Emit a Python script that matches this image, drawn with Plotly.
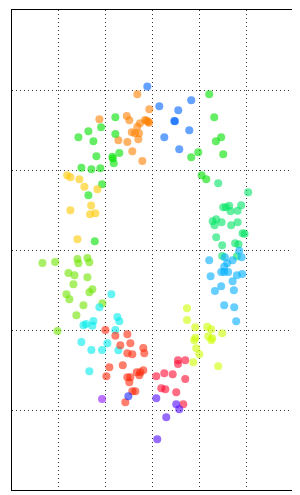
import plotly.graph_objects as go

# ---- data ----
orange_x = [-0.324, -0.068, -1.134, -0.550, -0.495, -0.160, -0.267, -0.324, -0.090, -0.443,
            -0.373, -0.288, -0.303, -0.729, -0.537, -0.431, -0.217, -0.124, -0.075]
orange_y = [1.946, 1.759, 1.634, 1.675, 1.621, 1.625, 1.584, 1.541, 1.604, 1.471,
            1.459, 1.459, 1.384, 1.371, 1.350, 1.234, 1.113, 1.616, 1.591]

blue_x = [-0.111, 0.145, 0.550, 0.827, 0.465, 0.785, 0.252, 0.571, 0.480]
blue_y = [2.044, 1.796, 1.746, 1.871, 1.613, 1.496, 1.409, 1.259, 1.610]

green_x = [-0.793, -1.098, -1.369, -1.582, -1.262, -0.793, -0.708, -1.198, -0.857, -0.846,
           -0.827, -1.518, -1.305, -1.113, -1.077, -1.369, -1.232,
           1.211, 1.318, 1.467, 1.354, 1.510, 0.977, 0.827, 1.049, 1.147]
green_y = [1.659, 1.534, 1.484, 1.409, 1.359, 1.450, 1.213, 1.171, 1.166, 1.144,
           1.084, 1.029, 1.009, 1.021, 0.821, 0.684, 0.109,
           1.946, 1.659, 1.409, 1.359, 1.196, 1.221, 1.159, 0.934, 0.884]

spring_x = [1.403, 2.043, 1.510, 1.638, 1.893, 1.567, 1.667, 1.817, 1.284, 1.360, 1.475,
            1.326, 1.680, 1.817, 1.923, 1.966, 1.360, 1.488, 1.765, 1.838, 1.488, 1.802]
spring_y = [0.834, 0.721, 0.534, 0.554, 0.559, 0.534, 0.484, 0.491, 0.359, 0.384, 0.346,
            0.309, 0.309, 0.346, 0.209, 0.204, 0.159, 0.059, 0.084, 0.071, -0.075, -0.079]

sky_x = [1.851, 1.211, 1.546, 1.595, 1.710, 1.531, 1.902, 1.467, 1.531, 1.616,
         1.802, 1.915, 1.241, 1.710, 1.467, 1.333, 1.738, 1.531, 1.744, 1.787]
sky_y = [-0.009, -0.129, -0.091, -0.166, -0.129, -0.209, -0.091, -0.275, -0.275, -0.275,
         -0.316, -0.300, -0.329, -0.391, -0.454, -0.513, -0.504, -0.691, -0.716, -0.891]

yellow_x = [-1.823, -1.753, -1.561, -1.454, -1.177, -1.311, -1.753, -1.333, -1.220, -1.603]
yellow_y = [0.934, 0.909, 0.884, 0.791, 0.759, 0.556, 0.496, 0.446, 0.459, 0.134]

lime_x = [-2.350, -2.079, -1.603, -1.582, -1.390, -1.348, -1.795, -1.667, -1.390,
          -1.689, -1.838, -1.774, -1.284, -1.348, -1.070, -1.475, -1.625, -2.030]
lime_y = [-0.163, -0.150, -0.113, -0.166, -0.100, -0.154, -0.288, -0.316, -0.341,
          -0.429, -0.554, -0.616, -0.491, -0.529, -0.666, -0.691, -0.816, -1.013]

cyan_x = [-0.878, -1.134, -0.751, -0.708, -1.262, -1.475, -1.418, -1.284,
          -0.793, -1.518, -0.964, -1.305, -1.077, -0.729, -1.348]
cyan_y = [-0.554, -0.716, -0.838, -0.891, -0.888, -0.941, -0.925, -0.946,
          -1.000, -1.150, -1.166, -1.250, -1.250, -1.254, -1.516]

redorange_x = [-1.006, -0.793, -0.537, -0.473, -0.687, -0.196, -0.175, -0.537, -0.431, -0.921, -0.635,
               -0.985, -0.537, -0.473, -0.495, -0.337, -0.260, -0.196, -0.281, -0.431, -0.367, -0.580]
redorange_y = [-1.000, -1.071, -1.054, -1.166, -1.191, -1.225, -1.291, -1.291, -1.304, -1.466, -1.441,
               -1.579, -1.591, -1.591, -1.654, -1.529, -1.529, -1.504, -1.566, -1.766, -1.766, -1.904]

crimson_x = [0.544, 0.544, 0.699, 0.081, 0.252, 0.431, 0.699, 0.188, 0.273, 0.507, 0.657]
crimson_y = [-1.379, -1.425, -1.379, -1.579, -1.541, -1.554, -1.613, -1.729, -1.741, -1.779, -1.929]

purple_x = [0.081, 0.507, 0.571, 0.294, 0.102]
purple_y = [-1.854, -1.929, -1.991, -2.091, -2.366]

violet_x = [-1.077]
violet_y = [-1.863]

indigo_x = [-0.516]
indigo_y = [-1.829]

chartreuse_x = [0.913, 1.168, 1.254, 1.488, 0.913, 0.891, 1.190, 1.275, 1.254,
                0.934, 0.998, 0.870, 1.403, 0.736, 0.736]
chartreuse_y = [-0.966, -0.959, -0.991, -1.041, -1.096, -1.129, -1.079, -1.104, -1.129,
                -1.229, -1.304, -1.404, -1.454, -0.729, -0.875]

groups = [
    (orange_x, orange_y, "rgb(255,128,0)"),
    (blue_x, blue_y, "rgb(0,100,255)"),
    (green_x, green_y, "rgb(0,225,0)"),
    (spring_x, spring_y, "rgb(0,228,100)"),
    (sky_x, sky_y, "rgb(0,175,255)"),
    (yellow_x, yellow_y, "rgb(255,200,0)"),
    (lime_x, lime_y, "rgb(110,228,0)"),
    (cyan_x, cyan_y, "rgb(0,235,235)"),
    (redorange_x, redorange_y, "rgb(255,40,10)"),
    (crimson_x, crimson_y, "rgb(255,10,50)"),
    (purple_x, purple_y, "rgb(80,10,255)"),
    (violet_x, violet_y, "rgb(140,20,255)"),
    (indigo_x, indigo_y, "rgb(20,40,255)"),
    (chartreuse_x, chartreuse_y, "rgb(205,255,0)"),
]

fig = go.Figure()
for gx, gy, col in groups:
    fig.add_trace(go.Scatter(
        x=gx, y=gy, mode="markers",
        marker=dict(size=8, color=col, opacity=0.6, line=dict(width=0)),
        showlegend=False, hoverinfo="skip",
    ))

axis_common = dict(
    range=[-3, 3], dtick=1, tick0=0,
    showgrid=True, gridcolor="#333333", gridwidth=1, griddash="1px,3px",
    zeroline=False, showticklabels=False, ticks="",
    showline=True, mirror=True, linecolor="black", linewidth=1,
)

# page body has an 8px margin; size the figure so the plot box lands where the reference has it
fig.update_layout(
    width=292, height=487,
    margin=dict(l=4, r=7, t=2, b=5),
    paper_bgcolor="white", plot_bgcolor="white",
    xaxis=axis_common, yaxis=axis_common,
)

fig.write_html("out.html")
